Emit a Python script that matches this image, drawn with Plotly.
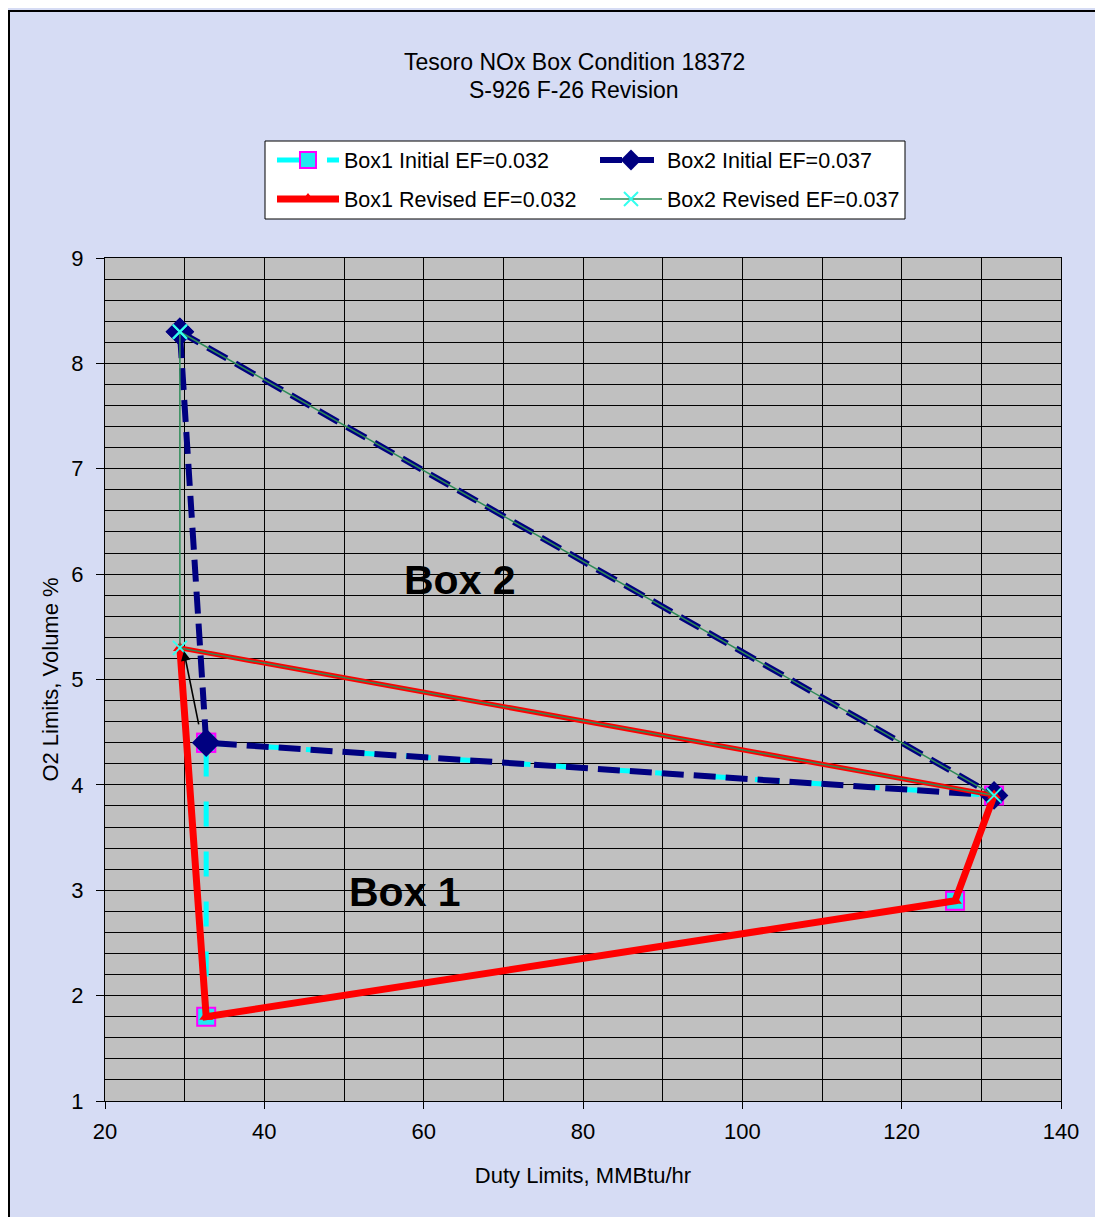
import plotly.graph_objects as go

# ---- data ----
box1_initial_x = [32.7, 131.6, 126.7, 32.7, 32.7]
box1_initial_y = [4.4, 3.9, 2.9, 1.8, 4.4]

box2_initial_x = [29.4, 131.6, 32.7, 29.4]
box2_initial_y = [8.3, 3.9, 4.4, 8.3]

box1_revised_x = [29.4, 32.7, 126.7, 131.6, 29.4]
box1_revised_y = [5.3, 1.8, 2.9, 3.9, 5.3]

box2_revised_x = [29.4, 131.6, 29.4, 29.4]
box2_revised_y = [8.3, 3.9, 5.3, 8.3]

x_ticks = [20, 40, 60, 80, 100, 120, 140]
y_ticks = [1, 2, 3, 4, 5, 6, 7, 8, 9]

FONT = "Arial, Liberation Sans, sans-serif"

# page offset (body margin top/left)
OFF = 8
W, H = 1095 - OFF, 1217 - OFF
L, R, T, B = 97, 34, 250, 116
pw, ph = W - L - R, H - T - B


def px_x(p):
    """page x pixel -> paper fraction"""
    return (p - OFF - L) / pw


def px_y(p):
    """page y pixel -> paper fraction"""
    return (H - B - (p - OFF)) / ph


fig = go.Figure()

fig.add_trace(go.Scatter(
    x=box1_initial_x, y=box1_initial_y, mode="lines+markers",
    name="Box1 Initial EF=0.032", legend="legend",
    line=dict(color="#00ffff", width=5, dash="longdash"),
    marker=dict(symbol="square", size=18, color="#22e8f0",
                line=dict(color="#ff00ff", width=2)),
))
fig.add_trace(go.Scatter(
    x=box2_initial_x, y=box2_initial_y, mode="lines+markers",
    name="Box2 Initial EF=0.037", legend="legend",
    line=dict(color="#000080", width=6, dash="22px,10px"),
    marker=dict(symbol="diamond", size=22, color="#000080"),
))
# top edge of revised box 1 (drawn thinner)
fig.add_trace(go.Scatter(
    x=box1_revised_x[3:5], y=box1_revised_y[3:5], mode="lines",
    showlegend=False, hoverinfo="skip",
    line=dict(color="#ff0000", width=5),
))
fig.add_trace(go.Scatter(
    x=box1_revised_x[0:4], y=box1_revised_y[0:4], mode="lines+markers",
    name="Box1 Revised EF=0.032", legend="legend2",
    line=dict(color="#ff0000", width=7),
    marker=dict(symbol="triangle-up", size=12, color="#ff0000"),
))
fig.add_trace(go.Scatter(
    x=box2_revised_x, y=box2_revised_y, mode="lines+markers",
    name="Box2 Revised EF=0.037", legend="legend2",
    line=dict(color="#2e8b57", width=1.5),
    marker=dict(symbol="x-thin", size=14, color="#33ffee",
                line=dict(color="#33ffee", width=2)),
))

# arrow from initial to revised point
fig.add_annotation(
    x=29.9, y=5.27, ax=31.8, ay=4.56, xref="x", yref="y", axref="x", ayref="y",
    showarrow=True, arrowhead=2, arrowsize=1.2, arrowwidth=1.6, arrowcolor="black", text="",
)
fig.add_annotation(x=64.6, y=5.94, text="<b>Box 2</b>", showarrow=False,
                   font=dict(family=FONT, size=41, color="black"))
fig.add_annotation(x=57.7, y=2.98, text="<b>Box 1</b>", showarrow=False,
                   font=dict(family=FONT, size=41, color="black"))

# title lines
fig.add_annotation(x=px_x(574), y=px_y(62), xref="paper", yref="paper",
                   text="Tesoro NOx Box Condition 18372", showarrow=False,
                   xanchor="center", yanchor="middle",
                   font=dict(family=FONT, size=23, color="black"))
fig.add_annotation(x=px_x(574), y=px_y(90), xref="paper", yref="paper",
                   text="S-926 F-26 Revision", showarrow=False,
                   xanchor="center", yanchor="middle",
                   font=dict(family=FONT, size=23, color="black"))

# outer frame
fig.add_shape(type="rect", xref="paper", yref="paper",
              x0=px_x(9), x1=px_x(1110), y0=px_y(1230), y1=px_y(11),
              fillcolor="rgba(0,0,0,0)", line=dict(color="black", width=2))
# legend box
fig.add_shape(type="rect", xref="paper", yref="paper",
              x0=px_x(265), x1=px_x(905), y0=px_y(219), y1=px_y(141),
              fillcolor="white", line=dict(color="black", width=1))

leg_common = dict(orientation="h", xanchor="left", yanchor="middle",
                  bgcolor="rgba(0,0,0,0)", borderwidth=0,
                  font=dict(family=FONT, size=21.5, color="black"),
                  entrywidth=246, itemwidth=62)

fig.update_layout(
    width=W, height=H,
    margin=dict(l=L, r=R, t=T, b=B, autoexpand=False),
    paper_bgcolor="#d6dcf4",
    plot_bgcolor="#c0c0c0",
    font=dict(family=FONT, size=22, color="black"),
    legend=dict(x=px_x(272), y=px_y(160), **leg_common),
    legend2=dict(x=px_x(272), y=px_y(199), **leg_common),
    showlegend=True,
)

fig.update_xaxes(
    range=[20, 140], tickvals=x_ticks, ticks="outside", ticklen=7, tickcolor="black",
    ticklabelstandoff=4,
    showgrid=True, gridcolor="black", gridwidth=1,
    minor=dict(dtick=10, showgrid=True, gridcolor="black", gridwidth=1),
    showline=True, linecolor="black", linewidth=1, mirror=True, zeroline=False,
    title=dict(text="Duty Limits, MMBtu/hr", standoff=24, font=dict(size=22)),
    tickfont=dict(size=22),
)
fig.update_yaxes(
    range=[1, 9], tickvals=y_ticks, ticks="outside", ticklen=8,
    tickcolor="black", ticklabelstandoff=8,
    showgrid=True, gridcolor="black", gridwidth=1,
    minor=dict(dtick=0.2, showgrid=True, gridcolor="black", gridwidth=1),
    showline=True, linecolor="black", linewidth=1, mirror=True, zeroline=False,
    title=dict(text="O2 Limits, Volume %", standoff=6, font=dict(size=22)),
    tickfont=dict(size=22),
)

fig.write_html(
    "out.html",
    post_script="document.body.style.margin='8px 0 0 8px';document.body.style.overflow='hidden';",
)
